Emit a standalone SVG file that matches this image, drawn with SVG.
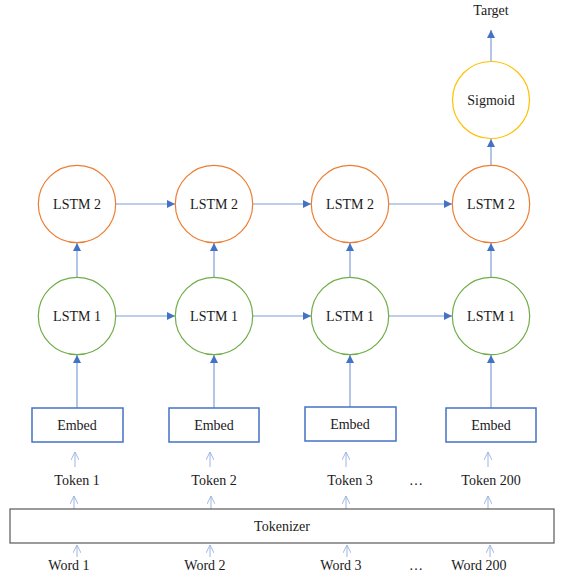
<svg xmlns="http://www.w3.org/2000/svg" width="563" height="579" viewBox="0 0 563 579">
<style>
text{font-family:'Liberation Serif','Times New Roman',Times,'DejaVu Serif','Noto Serif',serif;font-size:14px;fill:#1a1a1a;text-anchor:middle}
.l2{fill:#fff;stroke:#ED7D31;stroke-width:1.2}
.l1{fill:#fff;stroke:#70AD47;stroke-width:1.2}
.sg{fill:#fff;stroke:#FFC000;stroke-width:1.2}
.emb{fill:#fff;stroke:#4472C4;stroke-width:1.5}
.tok{fill:#fff;stroke:#595959;stroke-width:1.2}
.c{stroke:#7F9FD8;stroke-width:1.2;fill:none}
.o{stroke:#9DB5E3;stroke-width:1;fill:none}
</style>
<defs>
<marker id="tri" viewBox="0 0 10 10" refX="10" refY="5" markerWidth="8" markerHeight="8" markerUnits="userSpaceOnUse" orient="auto">
<path d="M0,0 L10,5 L0,10 z" fill="#4472C4"/>
</marker>
<marker id="open" viewBox="0 0 10 10" refX="10" refY="5" markerWidth="8" markerHeight="8" markerUnits="userSpaceOnUse" orient="auto">
<path d="M0,0 L10,5 L0,10" fill="none" stroke="#9DB5E3" stroke-width="1.2"/>
</marker>
</defs>
<g id="connectors">
<line class="c" x1="491" y1="62" x2="491" y2="30" marker-end="url(#tri)"/>
<line class="c" x1="491" y1="165" x2="491" y2="139" marker-end="url(#tri)"/>
<line class="c" x1="116" y1="204" x2="175" y2="204" marker-end="url(#tri)"/>
<line class="c" x1="253" y1="204" x2="311" y2="204" marker-end="url(#tri)"/>
<line class="c" x1="389" y1="204" x2="452" y2="204" marker-end="url(#tri)"/>
<line class="c" x1="116" y1="316" x2="175" y2="316" marker-end="url(#tri)"/>
<line class="c" x1="253" y1="316" x2="311" y2="316" marker-end="url(#tri)"/>
<line class="c" x1="389" y1="316" x2="452" y2="316" marker-end="url(#tri)"/>
<line class="c" x1="77" y1="277" x2="77" y2="243" marker-end="url(#tri)"/>
<line class="c" x1="214" y1="277" x2="214" y2="243" marker-end="url(#tri)"/>
<line class="c" x1="350" y1="277" x2="350" y2="243" marker-end="url(#tri)"/>
<line class="c" x1="491" y1="277" x2="491" y2="243" marker-end="url(#tri)"/>
<line class="c" x1="77" y1="408" x2="77" y2="355" marker-end="url(#tri)"/>
<line class="c" x1="214" y1="408" x2="214" y2="355" marker-end="url(#tri)"/>
<line class="c" x1="350" y1="407" x2="350" y2="355" marker-end="url(#tri)"/>
<line class="c" x1="491" y1="408" x2="491" y2="355" marker-end="url(#tri)"/>
<line class="o" x1="75" y1="467" x2="75" y2="452" marker-end="url(#open)"/>
<line class="o" x1="210" y1="467" x2="210" y2="452" marker-end="url(#open)"/>
<line class="o" x1="346" y1="467" x2="346" y2="452" marker-end="url(#open)"/>
<line class="o" x1="488" y1="467" x2="488" y2="452" marker-end="url(#open)"/>
<line class="o" x1="74" y1="509" x2="74" y2="496" marker-end="url(#open)"/>
<line class="o" x1="211" y1="509" x2="211" y2="496" marker-end="url(#open)"/>
<line class="o" x1="346" y1="509" x2="346" y2="496" marker-end="url(#open)"/>
<line class="o" x1="488" y1="509" x2="488" y2="496" marker-end="url(#open)"/>
<line class="o" x1="77" y1="557" x2="77" y2="545" marker-end="url(#open)"/>
<line class="o" x1="210" y1="557" x2="210" y2="545" marker-end="url(#open)"/>
<line class="o" x1="347" y1="557" x2="347" y2="545" marker-end="url(#open)"/>
<line class="o" x1="490" y1="557" x2="490" y2="545" marker-end="url(#open)"/>
</g>
<g id="target"><text x="491" y="15">Target</text></g>
<g id="sigmoid"><circle class="sg" cx="491" cy="100" r="38.5"/><text x="491" y="105">Sigmoid</text></g>
<g id="lstm2-1"><circle class="l2" cx="77" cy="204" r="38.7"/><text x="77" y="209">LSTM 2</text></g>
<g id="lstm2-2"><circle class="l2" cx="214" cy="204" r="38.7"/><text x="214" y="209">LSTM 2</text></g>
<g id="lstm2-3"><circle class="l2" cx="350" cy="204" r="38.7"/><text x="350" y="209">LSTM 2</text></g>
<g id="lstm2-4"><circle class="l2" cx="491" cy="204" r="38.7"/><text x="491" y="209">LSTM 2</text></g>
<g id="lstm1-1"><circle class="l1" cx="77" cy="316" r="38.7"/><text x="77" y="321">LSTM 1</text></g>
<g id="lstm1-2"><circle class="l1" cx="214" cy="316" r="38.7"/><text x="214" y="321">LSTM 1</text></g>
<g id="lstm1-3"><circle class="l1" cx="350" cy="316" r="38.7"/><text x="350" y="321">LSTM 1</text></g>
<g id="lstm1-4"><circle class="l1" cx="491" cy="316" r="38.7"/><text x="491" y="321">LSTM 1</text></g>
<g id="embed-1"><rect class="emb" x="32" y="408" width="91" height="34"/><text x="77" y="429.5">Embed</text></g>
<g id="embed-2"><rect class="emb" x="169" y="408" width="90" height="34"/><text x="214" y="429.5">Embed</text></g>
<g id="embed-3"><rect class="emb" x="305" y="407" width="91" height="34"/><text x="350" y="428.5">Embed</text></g>
<g id="embed-4"><rect class="emb" x="446" y="408" width="90" height="34"/><text x="491" y="429.5">Embed</text></g>
<g id="tokens">
<text x="77" y="484.5">Token 1</text>
<text x="214" y="484.5">Token 2</text>
<text x="350" y="484.5">Token 3</text>
<text x="416" y="484.5">…</text>
<text x="491" y="484.5">Token 200</text>
</g>
<g id="tokenizer"><rect class="tok" x="10" y="509" width="544" height="34"/><text x="282" y="530.5">Tokenizer</text></g>
<g id="words">
<text x="69" y="569.5">Word 1</text>
<text x="205" y="569.5">Word 2</text>
<text x="341" y="569.5">Word 3</text>
<text x="416" y="569.5">…</text>
<text x="479" y="569.5">Word 200</text>
</g>
</svg>
